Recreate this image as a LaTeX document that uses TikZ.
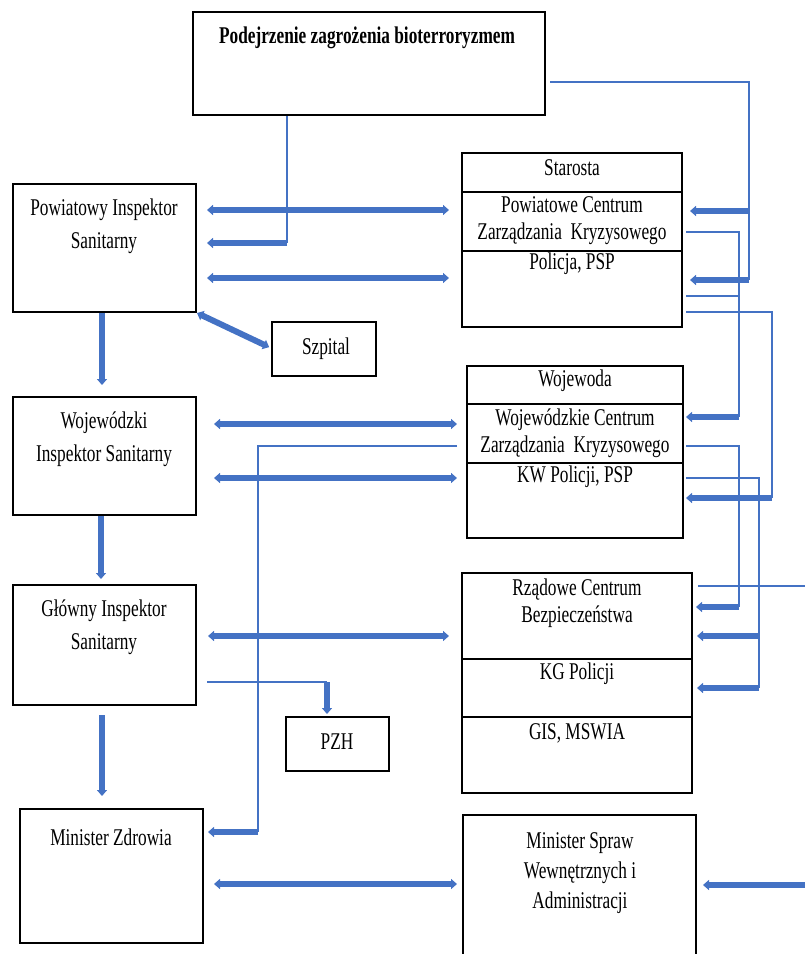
\documentclass[tikz,border=0pt]{standalone}
\usepackage{fontspec}
\setmainfont{Liberation Serif}[FakeStretch=0.72]
\usetikzlibrary{arrows.meta,fit}

\definecolor{linkblue}{HTML}{4472C4}

% --- empty frame fitted to two corners (pixel coordinates) ---
\newcommand{\PlaceFrame}[3]{%
  \node[frame,fit={#2 #3}] (#1) {};%
}

\begin{document}
\begin{tikzpicture}[
  x=0.5pt, y=-0.5pt,
  font=\fontsize{12}{16.5}\selectfont,
  frame/.style={draw=black,line width=1pt,inner sep=0pt},
  txt/.style={align=center,inner sep=0pt},
  celltxt/.style={txt,font=\fontsize{12}{13.5}\selectfont},
  fat/.style={draw=linkblue,line width=3pt,-{Triangle[length=3pt,width=5pt]}},
  fatboth/.style={fat,{Triangle[length=3pt,width=5pt]}-{Triangle[length=3pt,width=5pt]}},
  thin/.style={draw=linkblue,line width=0.6pt},
]

% ---- page ----
\useasboundingbox (0,0) rectangle (805,954);
\clip (0,0) rectangle (805,954);

% ========================= top =========================
\PlaceFrame{threat}{(193,12)}{(545,115)}
\node[txt,font=\fontsize{12}{16.5}\selectfont\bfseries] (threat-t) at (367,38)
  {Podejrzenie zagrożenia bioterroryzmem};

% ========================= left column: sanitary inspection =========================
\PlaceFrame{pis}{(13,184)}{(196,312)}
\node[txt] (pis-t) at (104,226) {Powiatowy Inspektor\\Sanitarny};
\PlaceFrame{wis}{(13,397)}{(196,515)}
\node[txt] (wis-t) at (104,439) {Wojewódzki\\Inspektor Sanitarny};
\PlaceFrame{gis}{(13,585)}{(196,705)}
\node[txt] (gis-t) at (104,627) {Główny Inspektor\\Sanitarny};
\PlaceFrame{mz}{(20,809)}{(203,943)}
\node[txt] (mz-t) at (111,837) {Minister Zdrowia};

\PlaceFrame{szp}{(272,322)}{(376,376)}
\node[txt] (szp-t) at (326,349) {Szpital};
\PlaceFrame{pzh}{(286,717)}{(389,771)}
\node[txt] (pzh-t) at (337,742) {PZH};

% ========================= right column: crisis management =========================
\foreach \nm/\ya/\yb in {sta/153/192, pck/192/251, pol/251/327}{%
  \PlaceFrame{\nm}{(462,\ya)}{(682,\yb)}}
\node[celltxt] (sta-t) at (572,168) {Starosta};
\node[celltxt] (pck-t) at (572,221) {Powiatowe Centrum\\Zarządzania~~Kryzysowego};
\node[celltxt] (pol-t) at (572,264) {Policja, PSP};

\foreach \nm/\ya/\yb in {woj/366/404, wck/404/463, kwp/463/538}{%
  \PlaceFrame{\nm}{(467,\ya)}{(683,\yb)}}
\node[celltxt] (woj-t) at (575,381) {Wojewoda};
\node[celltxt] (wck-t) at (575,433) {Wojewódzkie~Centrum\\Zarządzania~~Kryzysowego};
\node[celltxt] (kwp-t) at (575,477) {KW Policji, PSP};

\foreach \nm/\ya/\yb in {rcb/573/659, kgp/659/717, gism/717/793}{%
  \PlaceFrame{\nm}{(462,\ya)}{(692,\yb)}}
\node[celltxt] (rcb-t) at (577,603) {Rządowe Centrum\\Bezpieczeństwa};
\node[celltxt] (kgp-t) at (577,674) {KG Policji};
\node[celltxt] (gism-t) at (577,733) {GIS, MSWIA};

\PlaceFrame{mswia}{(463,815)}{(696,975)}
\node[txt,font=\fontsize{12}{15}\selectfont] (mswia-t) at (580,873)
  {Minister Spraw\\Wewnętrznych i\\Administracji};

% ---- down the sanitary line ----
\draw[fat,shorten >=5.5pt] (pis.south -| 102,0) -- (wis.north -| 102,0);
\draw[fat,shorten >=2.5pt] (wis.south -| 101,0) -- (gis.north -| 101,0);
\draw[fat,shorten <=4.5pt,shorten >=6pt] (gis.south -| 102,0) -- (mz.north -| 102,0);

% ---- powiat level ----
\coordinate (tap) at (287,243);
\draw[fatboth,shorten <=5pt,shorten >=6pt] (pis.east |- 0,210) -- (pck.west |- 0,210);
\draw[thin] (threat.south -| tap) -- (tap);
\draw[fat,shorten >=5pt] (tap) -- (pis.east |- tap);
\draw[fatboth,shorten <=5pt,shorten >=6pt] (pis.east |- 0,278) -- (pol.west |- 0,278);
\draw[fatboth,shorten >=1pt] (pis.south east) -- (szp.west |- 0,348);

% ---- wojewodztwo level ----
\draw[fatboth,shorten <=8.5pt,shorten >=4.5pt] (wis.east |- 0,424) -- (wck.west |- 0,424);
\draw[fatboth,shorten <=8.5pt,shorten >=4.5pt] (wis.east |- 0,478) -- (kwp.west |- 0,478);
\draw[thin,shorten <=4.5pt] (wck.west |- 0,446) -| (258,832);
\draw[fat,shorten >=2pt] (258,832) -- (mz.east |- 0,832);

% ---- country level ----
\draw[fatboth,shorten <=5.5pt,shorten >=6pt] (gis.east |- 0,636) -- (rcb.west |- 0,636);
\draw[thin,shorten <=5pt] (gis.east |- 0,682) -- (327,682);
\draw[fat,shorten >=1pt] (327,682) -- (pzh.north -| 327,0);
\draw[fatboth,shorten <=5pt,shorten >=2.5pt] (mz.east |- 0,884) -- (mswia.west |- 0,884);

% ---- reporting lines on the right ----
\draw[thin,shorten <=2pt] (threat.east |- 0,82) -| (749,280);
\draw[fat,shorten >=3.5pt] (749,211) -- (pck.east |- 0,211);
\draw[fat,shorten >=3.5pt] (749,280) -- (pol.east |- 0,280);

\draw[thin,shorten <=1.5pt] (pck.east |- 0,232) -| (739,417);
\draw[thin,shorten <=1.5pt] (pol.east |- 0,296) -- (739,296);
\draw[fat,shorten >=1pt] (739,417) -- (wck.east |- 0,417);
\draw[thin,shorten <=1.5pt] (pol.east |- 0,312) -| (772,498);
\draw[fat,shorten >=1pt] (772,498) -- (kwp.east |- 0,498);

\draw[thin,shorten <=1pt] (wck.east |- 0,446) -| (739,607);
\draw[fat,shorten >=1.5pt] (739,607) -- (rcb.east |- 0,607);
\draw[thin,shorten <=1pt] (kwp.east |- 0,478) -| (759,688);
\draw[fat,shorten >=2pt] (759,636) -- (rcb.east |- 0,636);
\draw[fat,shorten >=2pt] (759,688) -- (kgp.east |- 0,688);

\draw[thin,shorten <=2.5pt] (rcb.east |- 0,586) -- (805,586);
\draw[fat,shorten >=3pt] (805,885) -- (mswia.east |- 0,885);

\end{tikzpicture}
\end{document}
